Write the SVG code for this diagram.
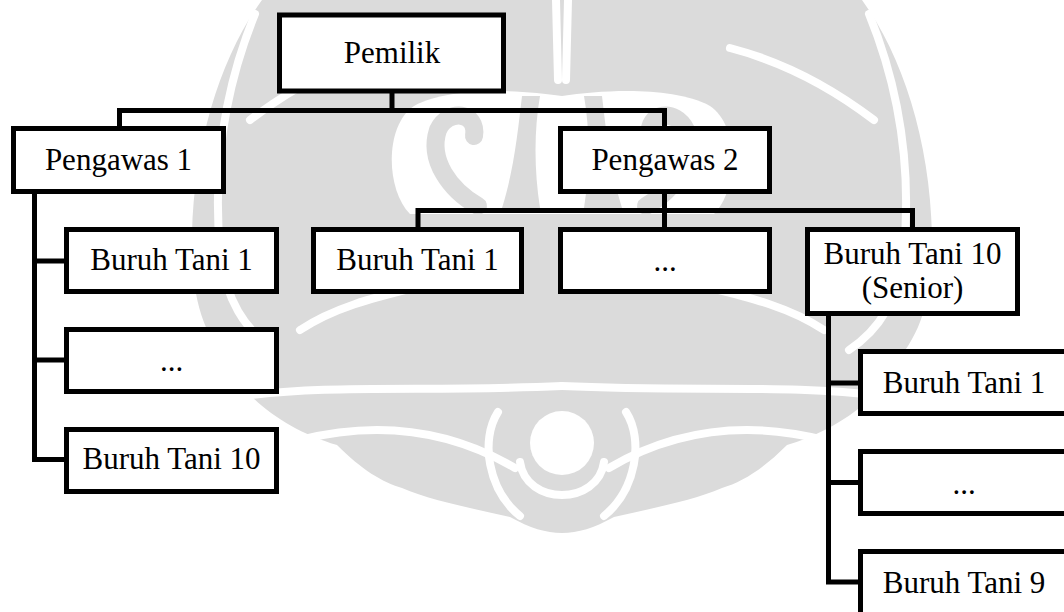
<svg xmlns="http://www.w3.org/2000/svg" width="1064" height="612" viewBox="0 0 1064 612">
<style>
  .box{fill:#fff;stroke:#000;stroke-width:5}
  .lbl{font-family:"Liberation Serif","Times New Roman",serif;font-size:31px;fill:#000;text-anchor:middle}
  .wire{fill:none;stroke:#000;stroke-width:5;stroke-linejoin:miter;stroke-linecap:butt}
  .wm{fill:#dbdbdb}
  .wmline{fill:none;stroke:#dbdbdb;stroke-width:18;stroke-linecap:round}
  .cut{fill:none;stroke:#fff;stroke-width:8;stroke-linecap:round}
  .hole{fill:#fff}
</style>
<rect width="1064" height="612" fill="#fff"/>

<!-- background ornament, left half mirrored about x=562 -->
<g id="ornament">
  <defs>
    <g id="orn-half">
      <path class="wm" d="M562,0 L262,0 C222,55 194,140 192,235 C191,290 200,330 228,362 C240,395 285,430 337,445 C362,470 382,482 402,488 C430,500 470,508 510,517 C530,528 546,533 562,533 Z"/>
      <path class="hole" d="M562,96 C520,90 452,86 414,106 C384,126 386,190 410,214 L562,214 Z"/>
      <path class="wmline" d="M478,206 C450,190 428,160 438,130 C448,108 478,112 474,136"/>
      <path class="wm" d="M522,96 C518,130 514,170 502,208 L540,208 C534,170 534,130 540,96 Z"/>
      <path class="cut" d="M255,14 C228,80 212,160 220,250 C225,300 245,330 275,350"/>
      <path class="cut" d="M394,48 C340,62 292,88 250,120"/>
      <path class="cut" d="M244,396 C330,384 430,392 562,386"/>
      <path class="cut" d="M300,440 C380,420 450,430 515,468"/>
      <path class="cut" d="M300,330 C360,290 440,290 500,260"/>
      <path class="cut" stroke-width="6" d="M498,412 C480,440 488,490 520,516"/>
      <path class="cut" stroke-width="4" d="M556,0 L558,80"/>
    </g>
  </defs>
  <use href="#orn-half"/>
  <use href="#orn-half" transform="translate(1124,0) scale(-1,1)"/>
  <circle class="hole" cx="562" cy="443" r="32"/>
  <path class="cut" stroke-width="9" d="M520,462 C526,506 598,506 604,462"/>
</g>

<g id="connectors">
  <path class="wire" d="M392,91 V110.5"/>
  <path class="wire" d="M119.5,128 V110.5 H664.5 V128"/>
  <path class="wire" d="M34.5,192 V459.5 H68"/>
  <path class="wire" d="M34.5,261 H68"/>
  <path class="wire" d="M34.5,360 H68"/>
  <path class="wire" d="M664.5,192 V229"/>
  <path class="wire" d="M418,229 V210.5 H912.5 V229"/>
  <path class="wire" d="M828.5,312 V582 H862"/>
  <path class="wire" d="M828.5,383 H862"/>
  <path class="wire" d="M828.5,482.5 H862"/>
</g>

<g id="pemilik"><rect class="box" x="279.5" y="15" width="224" height="76"/><text class="lbl" x="392" y="63">Pemilik</text></g>

<g id="pengawas1"><rect class="box" x="13.5" y="128.5" width="210" height="63"/><text class="lbl" x="118.5" y="170">Pengawas 1</text></g>
<g id="p1-buruh1"><rect class="box" x="66.5" y="229.5" width="210" height="62"/><text class="lbl" x="171.5" y="270">Buruh Tani 1</text></g>
<g id="p1-more"><rect class="box" x="66.5" y="329.5" width="210" height="62"/><text class="lbl" x="171.5" y="371">...</text></g>
<g id="p1-buruh10"><rect class="box" x="66.5" y="429.5" width="210" height="62"/><text class="lbl" x="171.5" y="469">Buruh Tani 10</text></g>

<g id="pengawas2"><rect class="box" x="560.5" y="128.5" width="209" height="63"/><text class="lbl" x="665" y="170">Pengawas 2</text></g>
<g id="p2-buruh1"><rect class="box" x="313.5" y="229.5" width="208" height="62"/><text class="lbl" x="417.5" y="270">Buruh Tani 1</text></g>
<g id="p2-more"><rect class="box" x="560.5" y="229.5" width="209" height="62"/><text class="lbl" x="665" y="271">...</text></g>
<g id="p2-senior"><rect class="box" x="807.5" y="229.5" width="210" height="84"/><text class="lbl" x="912.5" y="264">Buruh Tani 10</text><text class="lbl" x="912.5" y="298">(Senior)</text></g>

<g id="s-buruh1"><rect class="box" x="860.5" y="351.5" width="212" height="62"/><text class="lbl" x="964" y="393">Buruh Tani 1</text></g>
<g id="s-more"><rect class="box" x="860.5" y="451.5" width="212" height="62"/><text class="lbl" x="964" y="494">...</text></g>
<g id="s-buruh9"><rect class="box" x="860.5" y="551.5" width="212" height="70"/><text class="lbl" x="964" y="593">Buruh Tani 9</text></g>
</svg>
